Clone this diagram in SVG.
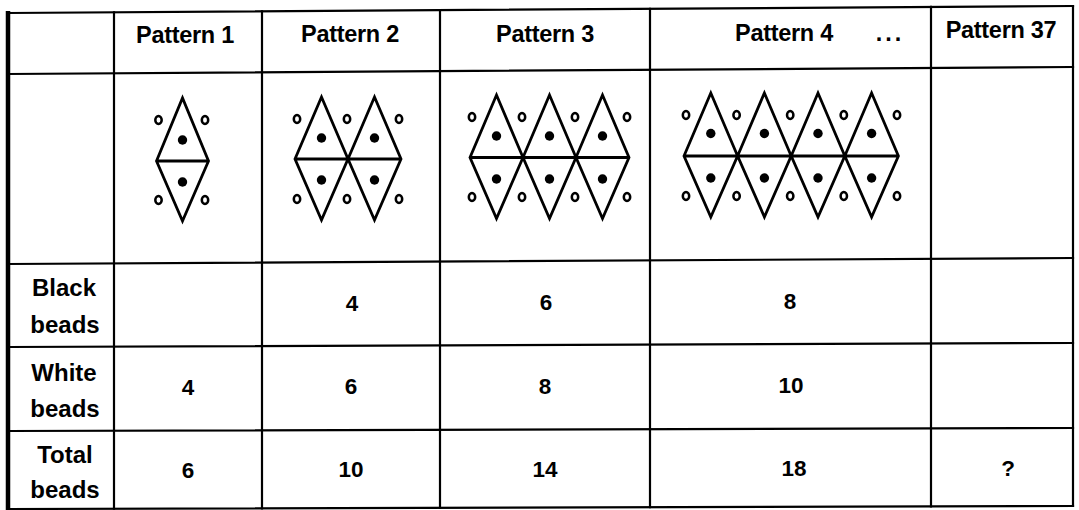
<svg xmlns="http://www.w3.org/2000/svg" width="1079" height="510" viewBox="0 0 1079 510">
<style>
.bg{fill:#fff}
.grid{stroke:#000;stroke-width:2.2;fill:none;stroke-linecap:square}
.thick{stroke:#000;stroke-width:4.5;fill:none}
.tri{stroke:#000;stroke-width:2.8;fill:none;stroke-linejoin:miter}
.blk{fill:#000}
.wht{fill:#fff;stroke:#000;stroke-width:2.5}
.hd{font-family:"Liberation Sans",Arial,sans-serif;font-weight:bold;font-size:23.5px;text-anchor:middle;fill:#000;letter-spacing:-0.3px}
.dots{font-family:"Liberation Sans",Arial,sans-serif;font-weight:bold;font-size:23.5px;text-anchor:middle;fill:#000;letter-spacing:3px}
.lb{font-family:"Liberation Sans",Arial,sans-serif;font-weight:bold;font-size:24px;text-anchor:middle;fill:#000}
.num{font-family:"Liberation Sans",Arial,sans-serif;font-weight:bold;font-size:22.5px;text-anchor:middle;fill:#000}
</style>
<rect class="bg" x="0" y="0" width="1079" height="510"/>
<g id="table-grid">
  <path class="grid" d="M8,13 L1073,6 M8,74 L1073,67 M8,264 L1073,258 M8,347 L1073,343 M8,431 L1073,428 M8,509 L1073,506"/>
  <path class="grid" d="M114,12.3 V508.7 M262,11.3 V508.3 M440,10.2 V507.8 M650,8.8 V507.2 M931,6.9 V506.4 M1073,6 V506"/>
  <path class="thick" d="M8,11 V511"/>
</g>
<g id="headers">
  <text class="hd" x="185" y="43">Pattern 1</text>
  <text class="hd" x="350" y="42">Pattern 2</text>
  <text class="hd" x="545" y="42">Pattern 3</text>
  <text class="hd" x="784" y="41">Pattern 4</text>
  <text class="dots" x="890" y="41">...</text>
  <text class="hd" x="1001" y="38">Pattern 37</text>
</g>
<g id="pattern-1">
  <path class="tri" d="M156.5,161 L182.5,98 L208.5,161 L182.5,221 Z M156.5,161 H208.5"/>
  <circle class="blk" cx="182.5" cy="140" r="4.7"/>
  <circle class="blk" cx="182.5" cy="182" r="4.7"/>
  <ellipse class="wht" cx="158.5" cy="120" rx="3.2" ry="4"/>
  <ellipse class="wht" cx="205" cy="120" rx="3.2" ry="4"/>
  <ellipse class="wht" cx="158.5" cy="200" rx="3.2" ry="4"/>
  <ellipse class="wht" cx="205" cy="200" rx="3.2" ry="4"/>
</g>
<g id="pattern-2">
  <path class="tri" d="M295,159 L321.5,97 L348,159 L374.5,97 L401,159 L374.5,220 L348,159 L321.5,220 Z M295,159 H401"/>
  <circle class="blk" cx="321.5" cy="138" r="4.7"/>
  <circle class="blk" cx="374.5" cy="138" r="4.7"/>
  <circle class="blk" cx="321.5" cy="180" r="4.7"/>
  <circle class="blk" cx="374.5" cy="180" r="4.7"/>
  <ellipse class="wht" cx="297" cy="119" rx="3.2" ry="4"/>
  <ellipse class="wht" cx="347" cy="119" rx="3.2" ry="4"/>
  <ellipse class="wht" cx="399" cy="119" rx="3.2" ry="4"/>
  <ellipse class="wht" cx="297" cy="199" rx="3.2" ry="4"/>
  <ellipse class="wht" cx="347" cy="199" rx="3.2" ry="4"/>
  <ellipse class="wht" cx="399" cy="199" rx="3.2" ry="4"/>
</g>
<g id="pattern-3">
  <path class="tri" d="M470,157.5 L496.5,95 L523,157.5 L549.5,95 L576,157.5 L602.5,95 L629,157.5 L602.5,218.5 L576,157.5 L549.5,218.5 L523,157.5 L496.5,218.5 Z M470,157.5 H629"/>
  <circle class="blk" cx="496.5" cy="136" r="4.7"/>
  <circle class="blk" cx="549.5" cy="136" r="4.7"/>
  <circle class="blk" cx="602.5" cy="136" r="4.7"/>
  <circle class="blk" cx="496.5" cy="179" r="4.7"/>
  <circle class="blk" cx="549.5" cy="179" r="4.7"/>
  <circle class="blk" cx="602.5" cy="179" r="4.7"/>
  <ellipse class="wht" cx="472" cy="117" rx="3.2" ry="4"/>
  <ellipse class="wht" cx="522" cy="117" rx="3.2" ry="4"/>
  <ellipse class="wht" cx="575" cy="117" rx="3.2" ry="4"/>
  <ellipse class="wht" cx="627" cy="117" rx="3.2" ry="4"/>
  <ellipse class="wht" cx="472" cy="197" rx="3.2" ry="4"/>
  <ellipse class="wht" cx="522" cy="197" rx="3.2" ry="4"/>
  <ellipse class="wht" cx="575" cy="197" rx="3.2" ry="4"/>
  <ellipse class="wht" cx="627" cy="197" rx="3.2" ry="4"/>
</g>
<g id="pattern-4">
  <path class="tri" d="M684,156 L710.8,93 L737.6,156 L764.4,93 L791.2,156 L818,93 L844.8,156 L871.6,93 L898.4,156 L871.6,217 L844.8,156 L818,217 L791.2,156 L764.4,217 L737.6,156 L710.8,217 Z M684,156 H898.4"/>
  <circle class="blk" cx="710.8" cy="133.5" r="4.7"/>
  <circle class="blk" cx="764.4" cy="133.5" r="4.7"/>
  <circle class="blk" cx="818" cy="133.5" r="4.7"/>
  <circle class="blk" cx="871.6" cy="133.5" r="4.7"/>
  <circle class="blk" cx="710.8" cy="178" r="4.7"/>
  <circle class="blk" cx="764.4" cy="178" r="4.7"/>
  <circle class="blk" cx="818" cy="178" r="4.7"/>
  <circle class="blk" cx="871.6" cy="178" r="4.7"/>
  <ellipse class="wht" cx="686" cy="115" rx="3.2" ry="4"/>
  <ellipse class="wht" cx="736.6" cy="115" rx="3.2" ry="4"/>
  <ellipse class="wht" cx="790.2" cy="115" rx="3.2" ry="4"/>
  <ellipse class="wht" cx="843.8" cy="115" rx="3.2" ry="4"/>
  <ellipse class="wht" cx="897" cy="115" rx="3.2" ry="4"/>
  <ellipse class="wht" cx="686" cy="196" rx="3.2" ry="4"/>
  <ellipse class="wht" cx="736.6" cy="196" rx="3.2" ry="4"/>
  <ellipse class="wht" cx="790.2" cy="196" rx="3.2" ry="4"/>
  <ellipse class="wht" cx="843.8" cy="196" rx="3.2" ry="4"/>
  <ellipse class="wht" cx="897" cy="196" rx="3.2" ry="4"/>
</g>
<g id="row-labels">
  <text class="lb" x="64" y="296">Black</text>
  <text class="lb" x="65" y="333">beads</text>
  <text class="lb" x="64" y="381">White</text>
  <text class="lb" x="65" y="417">beads</text>
  <text class="lb" x="65" y="463">Total</text>
  <text class="lb" x="65" y="498">beads</text>
</g>
<g id="black-row">
  <text class="num" x="352" y="311">4</text>
  <text class="num" x="546" y="310">6</text>
  <text class="num" x="790" y="309">8</text>
</g>
<g id="white-row">
  <text class="num" x="188" y="395">4</text>
  <text class="num" x="351" y="394">6</text>
  <text class="num" x="545" y="394">8</text>
  <text class="num" x="791" y="393">10</text>
</g>
<g id="total-row">
  <text class="num" x="188" y="478">6</text>
  <text class="num" x="351" y="477">10</text>
  <text class="num" x="545" y="477">14</text>
  <text class="num" x="794" y="476">18</text>
  <text class="num" x="1008" y="476">?</text>
</g>
</svg>
